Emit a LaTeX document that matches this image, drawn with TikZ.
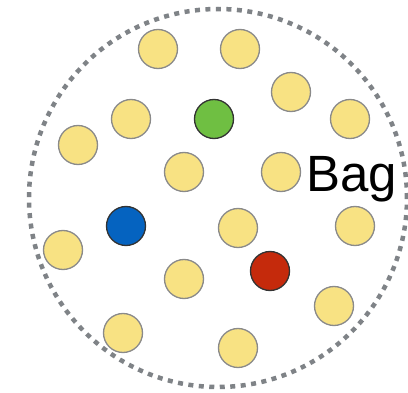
\documentclass[tikz,border=0pt]{standalone}
\usepackage{fontspec}
\setmainfont{Liberation Sans}
\definecolor{ballyellow}{HTML}{F8E283}
\definecolor{ballgray}{HTML}{8A8A8A}
\definecolor{ballgreen}{HTML}{6FBF42}
\definecolor{ballblue}{HTML}{0563C0}
\definecolor{ballred}{HTML}{C52A0C}
\definecolor{balldark}{HTML}{333333}
\definecolor{baggray}{HTML}{7F8387}
\begin{document}
\begin{tikzpicture}[x=1pt,y=-1pt,
  ball/.style={circle,minimum size=39pt,inner sep=0pt,draw=ballgray,line width=1.3pt,fill=ballyellow},
  special/.style={ball,draw=balldark}]
\useasboundingbox (0,0) rectangle (408,393);
\node[circle,minimum size=378pt,inner sep=0pt,draw=baggray,line width=4.5pt,dash pattern=on 5pt off 5.5pt] (bag) at (218,198) {};
\node[ball] (b1) at (158,49) {};
\node[ball] (b2) at (240,49) {};
\node[ball] (b3) at (291,92) {};
\node[ball] (b4) at (350,119) {};
\node[ball] (b5) at (131,119) {};
\node[special,fill=ballgreen] (g) at (214,119) {};
\node[ball] (b6) at (78,145) {};
\node[ball] (b7) at (184,172) {};
\node[ball] (b8) at (281,172) {};
\node[special,fill=ballblue] (bl) at (126,226) {};
\node[ball] (b9) at (238,228) {};
\node[ball] (b10) at (355,226) {};
\node[ball] (b11) at (63,250) {};
\node[special,fill=ballred] (r) at (270,271) {};
\node[ball] (b12) at (184,279) {};
\node[ball] (b13) at (334,306) {};
\node[ball] (b14) at (123,333) {};
\node[ball] (b15) at (238,348) {};
\node[anchor=base west,inner sep=0pt,font=\fontsize{51}{51}\selectfont] (lbl) at (306,192) {Bag};
\end{tikzpicture}
\end{document}
